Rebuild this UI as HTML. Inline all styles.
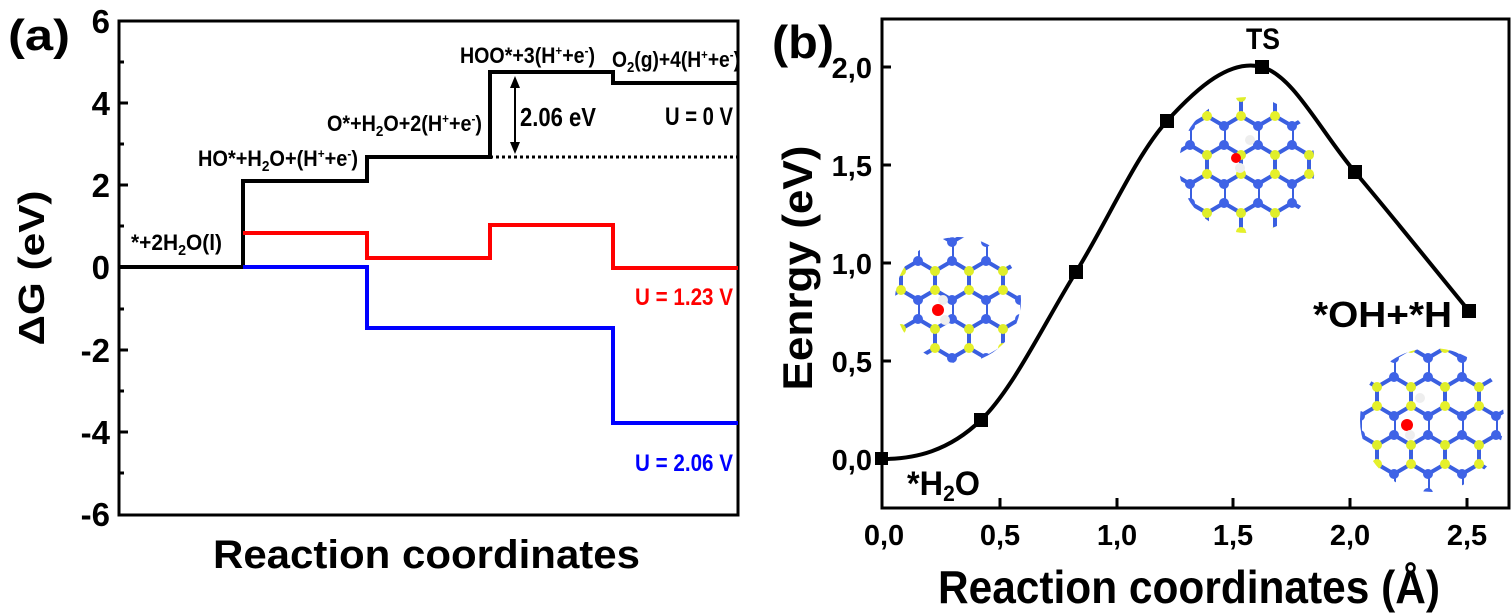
<!DOCTYPE html>
<html><head><meta charset="utf-8"><style>
html,body{margin:0;padding:0;background:#fff;}
svg{display:block;font-family:"Liberation Sans Narrow","Liberation Sans",sans-serif;font-weight:bold;}
</style></head><body>
<svg width="1511" height="613" viewBox="0 0 1511 613" xmlns="http://www.w3.org/2000/svg">
<defs>
<pattern id="lat" width="34" height="58" patternUnits="userSpaceOnUse">
<g stroke="#3a5fe0" stroke-width="4">
<line x1="0" y1="10" x2="17" y2="0"/><line x1="17" y1="0" x2="34" y2="10"/>
<line x1="0" y1="10" x2="0" y2="29"/><line x1="0" y1="29" x2="17" y2="39"/>
<line x1="17" y1="39" x2="34" y2="29"/><line x1="17" y1="39" x2="17" y2="58"/>
</g>
<circle cx="0" cy="10" r="5" fill="#3f63e6"/><circle cx="34" cy="10" r="5" fill="#3f63e6"/>
<circle cx="17" cy="0" r="5" fill="#e5f02a"/><circle cx="17" cy="58" r="5" fill="#e5f02a"/>
<circle cx="0" cy="29" r="5" fill="#3f63e6"/><circle cx="34" cy="29" r="5" fill="#3f63e6"/>
<circle cx="17" cy="39" r="5" fill="#dfee2a"/>
</pattern>
</defs>

<!-- Panel (a) -->
<text x="8" y="50" font-size="44" textLength="62" lengthAdjust="spacingAndGlyphs">(a)</text>
<rect x="119" y="21" width="619" height="494" fill="none" stroke="#000" stroke-width="3"/>
<g stroke="#000" stroke-width="3">
<line x1="119" y1="21" x2="126" y2="21"/><line x1="119" y1="103" x2="128" y2="103"/>
<line x1="119" y1="185" x2="128" y2="185"/><line x1="119" y1="267" x2="128" y2="267"/>
<line x1="119" y1="350" x2="128" y2="350"/><line x1="119" y1="432" x2="128" y2="432"/>
<line x1="119" y1="62" x2="124" y2="62"/><line x1="119" y1="144" x2="124" y2="144"/>
<line x1="119" y1="226" x2="124" y2="226"/><line x1="119" y1="309" x2="124" y2="309"/>
<line x1="119" y1="391" x2="124" y2="391"/><line x1="119" y1="473" x2="124" y2="473"/>
</g>
<g font-size="33" text-anchor="end">
<text x="110" y="33">6</text><text x="110" y="115">4</text><text x="110" y="197">2</text>
<text x="110" y="279">0</text><text x="110" y="362">-2</text><text x="110" y="444">-4</text><text x="110" y="526">-6</text>
</g>
<text transform="translate(44,268) rotate(-90)" font-size="36" text-anchor="middle" textLength="155" lengthAdjust="spacingAndGlyphs">ΔG (eV)</text>
<text x="213" y="568" font-size="40" textLength="427" lengthAdjust="spacingAndGlyphs">Reaction coordinates</text>

<polyline fill="none" stroke="#000" stroke-width="4" points="119,267 243,267 243,181 367,181 367,157 490,157 490,72 613,72 613,83 738,83"/>
<line x1="490" y1="157" x2="738" y2="157" stroke="#000" stroke-width="3" stroke-dasharray="3,3"/>
<polyline fill="none" stroke="#f00" stroke-width="4" points="243,233 367,233 367,258 490,258 490,225 613,225 613,268 738,268"/>
<polyline fill="none" stroke="#00f" stroke-width="4" points="243,267 367,267 367,328 490,328 613,328 613,423 738,423"/>
<line x1="515" y1="80" x2="515" y2="150" stroke="#000" stroke-width="2"/>
<polygon points="515,76 510,88 520,88" fill="#000"/><polygon points="515,154 510,142 520,142" fill="#000"/>
<g font-size="22">
<text x="131" y="250" textLength="91" lengthAdjust="spacingAndGlyphs">*+2H<tspan font-size="15" dy="5">2</tspan><tspan dy="-5">O(l)</tspan></text>
<text x="198" y="166" textLength="160" lengthAdjust="spacingAndGlyphs">HO*+H<tspan font-size="15" dy="5">2</tspan><tspan dy="-5">O+(H</tspan><tspan font-size="13" dy="-8">+</tspan><tspan dy="8">+e</tspan><tspan font-size="13" dy="-8">-</tspan><tspan dy="8">)</tspan></text>
<text x="327" y="131" textLength="155" lengthAdjust="spacingAndGlyphs">O*+H<tspan font-size="15" dy="5">2</tspan><tspan dy="-5">O+2(H</tspan><tspan font-size="13" dy="-8">+</tspan><tspan dy="8">+e</tspan><tspan font-size="13" dy="-8">-</tspan><tspan dy="8">)</tspan></text>
<text x="460" y="63" textLength="135" lengthAdjust="spacingAndGlyphs">HOO*+3(H<tspan font-size="13" dy="-8">+</tspan><tspan dy="8">+e</tspan><tspan font-size="13" dy="-8">-</tspan><tspan dy="8">)</tspan></text>
<text x="612" y="67" textLength="128" lengthAdjust="spacingAndGlyphs">O<tspan font-size="15" dy="5">2</tspan><tspan dy="-5">(g)+4(H</tspan><tspan font-size="13" dy="-8">+</tspan><tspan dy="8">+e</tspan><tspan font-size="13" dy="-8">-</tspan><tspan dy="8">)</tspan></text>
</g>
<text x="520" y="126" font-size="26" textLength="76" lengthAdjust="spacingAndGlyphs">2.06 eV</text>
<text x="665" y="125" font-size="25" textLength="68" lengthAdjust="spacingAndGlyphs">U = 0 V</text>
<text x="635" y="305" font-size="24" textLength="98" lengthAdjust="spacingAndGlyphs" fill="#f00">U = 1.23 V</text>
<text x="635" y="471" font-size="24" textLength="98" lengthAdjust="spacingAndGlyphs" fill="#00f">U = 2.06 V</text>

<!-- Panel (b) -->
<text x="772" y="58" font-size="46" textLength="62" lengthAdjust="spacingAndGlyphs">(b)</text>
<circle cx="958" cy="300" r="63" fill="url(#lat)"/>
<circle cx="938" cy="310" r="6" fill="#f00"/><circle cx="945" cy="320" r="5" fill="#eee"/><circle cx="943" cy="300" r="5" fill="#eee"/>
<circle cx="1247" cy="165" r="68" fill="url(#lat)"/>
<circle cx="1236" cy="158" r="5" fill="#f00"/><circle cx="1240" cy="168" r="5" fill="#eee"/><circle cx="1250" cy="140" r="5" fill="#eee"/>
<circle cx="1432" cy="420" r="72" fill="url(#lat)"/>
<circle cx="1407" cy="425" r="6" fill="#f00"/><circle cx="1410" cy="435" r="5" fill="#eee"/><circle cx="1420" cy="398" r="5" fill="#eee"/>

<rect x="882" y="19" width="627" height="489" fill="none" stroke="#000" stroke-width="3"/>
<g stroke="#000" stroke-width="3">
<line x1="882" y1="67" x2="891" y2="67"/><line x1="882" y1="165" x2="891" y2="165"/>
<line x1="882" y1="263" x2="891" y2="263"/><line x1="882" y1="361" x2="891" y2="361"/>
<line x1="882" y1="459" x2="891" y2="459"/>
<line x1="1000" y1="508" x2="1000" y2="498"/><line x1="1117" y1="508" x2="1117" y2="498"/>
<line x1="1233" y1="508" x2="1233" y2="498"/><line x1="1350" y1="508" x2="1350" y2="498"/>
<line x1="1467" y1="508" x2="1467" y2="498"/>
</g>
<g font-size="29" text-anchor="end">
<text x="872" y="78">2,0</text><text x="872" y="176">1,5</text><text x="872" y="274">1,0</text>
<text x="872" y="372">0,5</text><text x="872" y="470">0,0</text>
</g>
<g font-size="29" text-anchor="middle">
<text x="884" y="545">0,0</text><text x="1000" y="545">0,5</text><text x="1117" y="545">1,0</text>
<text x="1233" y="545">1,5</text><text x="1350" y="545">2,0</text><text x="1467" y="545">2,5</text>
</g>
<text transform="translate(812,268) rotate(-90)" font-size="42" text-anchor="middle" textLength="245" lengthAdjust="spacingAndGlyphs">Eenrgy (eV)</text>
<text x="938" y="603" font-size="46" textLength="502" lengthAdjust="spacingAndGlyphs">Reaction coordinates (Å)</text>

<path fill="none" stroke="#000" stroke-width="4" d="M882,459 C915,459 948.7,451.2 981,420 C1013.3,388.8 1045,321.8 1076,272 C1107,222.2 1136,155.2 1167,121 C1198,86.8 1230.7,58.5 1262,67 C1293.3,75.5 1320.5,131.3 1355,172 C1389.5,212.7 1431,264.7 1469,311"/>
<g fill="#000">
<rect x="875" y="452" width="13" height="13"/><rect x="974" y="413" width="14" height="14"/>
<rect x="1069" y="265" width="14" height="14"/><rect x="1160" y="114" width="14" height="14"/>
<rect x="1255" y="60" width="14" height="14"/><rect x="1348" y="165" width="14" height="14"/>
<rect x="1462" y="304" width="14" height="14"/>
</g>
<text x="1263" y="49" font-size="30" text-anchor="middle" textLength="34" lengthAdjust="spacingAndGlyphs">TS</text>
<text x="1313" y="327" font-size="36" textLength="139" lengthAdjust="spacingAndGlyphs">*OH+*H</text>
<text x="907" y="495" font-size="34" textLength="73" lengthAdjust="spacingAndGlyphs">*H<tspan font-size="22" dy="6">2</tspan><tspan dy="-6">O</tspan></text>
</svg>
</body></html>
